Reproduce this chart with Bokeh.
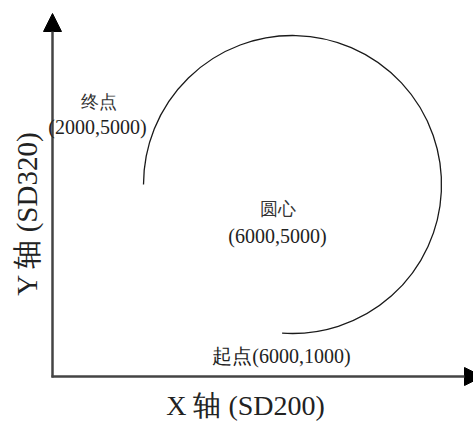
import math
from bokeh.plotting import figure
from bokeh.models import Arrow, NormalHead, Label, Range1d
from bokeh.embed import file_html
from bokeh.resources import INLINE

# ---- data ----
center = [6000, 5000]
radius = 4000
start_point = [6000, 1000]
end_point = [2000, 5000]
arc_start_deg = -94
arc_end_deg = 180
label_center = ["圆心", "(6000,5000)"]
label_start = "起点(6000,1000)"
label_end = ["终点", "(2000,5000)"]
x_title = "X 轴 (SD200)"
y_title = "Y 轴 (SD320)"

# ---- layout ----
W, H = 473, 421
S = 149 / 4000  # px per data unit
x0 = center[0] - 292 / S
x1 = x0 + W / S
y1 = center[1] + 184 / S
y0 = y1 - H / S

def dx(px):
    return x0 + px / S

def dy(py):
    return y1 - py / S

p = figure(width=W, height=H, output_backend="svg", toolbar_location=None,
           x_range=Range1d(x0, x1), y_range=Range1d(y0, y1), min_border=0)
p.axis.visible = False
p.grid.visible = False
p.outline_line_color = None
p.background_fill_color = "white"
p.border_fill_color = "white"

p.arc(x=[center[0]], y=[center[1]], radius=radius,
      start_angle=math.radians(arc_start_deg), end_angle=math.radians(arc_end_deg),
      direction="anticlock", line_color="#1a1a1a", line_width=1.3)

# axes with arrows
p.add_layout(Arrow(x_start=dx(52), y_start=dy(377), x_end=dx(52), y_end=dy(13),
                   line_color="#444444", line_width=2.5,
                   end=NormalHead(size=18, fill_color="black", line_color="black", line_width=1)))
p.add_layout(Arrow(x_start=dx(51), y_start=dy(376), x_end=dx(482), y_end=dy(376),
                   line_color="#444444", line_width=2.5,
                   end=NormalHead(size=18, fill_color="black", line_color="black", line_width=1)))

FONT = "Liberation Serif"
def lab(text, px, py, size, angle=0.0, color="#222222"):
    p.add_layout(Label(x=dx(px), y=dy(py), text=text, text_font=FONT,
                       text_font_size=f"{size}px", text_align="center",
                       text_baseline="middle", text_color=color, angle=angle))

lab(label_end[0], 98, 101, 18, color="#333333")
lab(label_end[1], 97, 126, 20)
lab(label_center[0], 277, 208, 18, color="#333333")
lab(label_center[1], 277, 235, 20)
lab(label_start, 281, 355, 20)
lab(x_title, 245, 405, 28)
lab(y_title, 26, 213, 29, angle=math.pi / 2)

open("out.html", "w").write(file_html(p, INLINE))
